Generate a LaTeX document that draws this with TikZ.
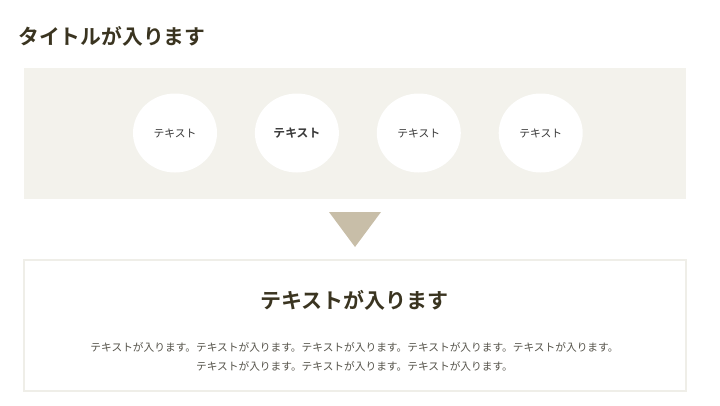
\documentclass[tikz,border=0pt]{standalone}
\usepackage{fontspec}
\newfontfamily\jpfont{Noto Sans CJK JP}[BoldFont={Noto Sans CJK JP Bold}]
\usetikzlibrary{positioning,shapes.geometric}
\definecolor{olive_fonce}{HTML}{3A3420}
\definecolor{gris_texte}{HTML}{55534A}
\definecolor{beige_fond}{HTML}{F3F2EC}
\definecolor{beige_bord}{HTML}{EFEEE8}
\definecolor{sable}{HTML}{C8BEA8}
\begin{document}
\begin{tikzpicture}[
  x=1pt, y=-1pt,
  node distance=37.5pt,
  font=\jpfont,
  %  Styles des cadres et des textes
  titre_style/.style={anchor=west, inner sep=0pt, font=\jpfont\bfseries\fontsize{20.8}{24}\selectfont, text=olive_fonce},
  panneau_style/.style={fill=beige_fond, draw=none},
  rond_style/.style={ellipse, fill=white, minimum width=84pt, minimum height=79pt, inner sep=0pt, font=\jpfont\fontsize{10.8}{12}\selectfont, text=black!78},
  fleche_style/.style={fill=sable, draw=none},
  cadre_style/.style={fill=white, draw=beige_bord, line width=1.2pt},
  entete_style/.style={inner sep=0pt, font=\jpfont\bfseries\fontsize{21}{24}\selectfont, text=olive_fonce},
  texte_style/.style={inner sep=0pt, align=center, font=\jpfont\fontsize{10.7}{19}\selectfont, text=gris_texte}
]
\useasboundingbox (0,0) rectangle (720,405);

%  Titre
\node[titre_style] (titre) at (18,36) {タイトルが入ります};

%  Bandeau du haut
\fill[panneau_style] (24,68) rectangle (686,199);
\node[rond_style] (rond1) at (175,133) {テキスト};
\node[rond_style, right=of rond1] (rond2) {\fontsize{11.8}{13}\selectfont\bfseries テキスト};
\node[rond_style, right=of rond2] (rond3) {テキスト};
\node[rond_style, right=of rond3] (rond4) {テキスト};

%  Fleche
\fill[fleche_style] (329,212) -- (381,212) -- (355,247) -- cycle;

%  Cadre du bas
\draw[cadre_style] (24,260) rectangle (686,391);
\node[entete_style] (entete) at (354.5,300) {テキストが入ります};
\node[texte_style] (texte) at (354.5,356.5)
  {テキストが入ります。テキストが入ります。テキストが入ります。テキストが入ります。テキストが入ります。\\
   テキストが入ります。テキストが入ります。テキストが入ります。};
\end{tikzpicture}
\end{document}
